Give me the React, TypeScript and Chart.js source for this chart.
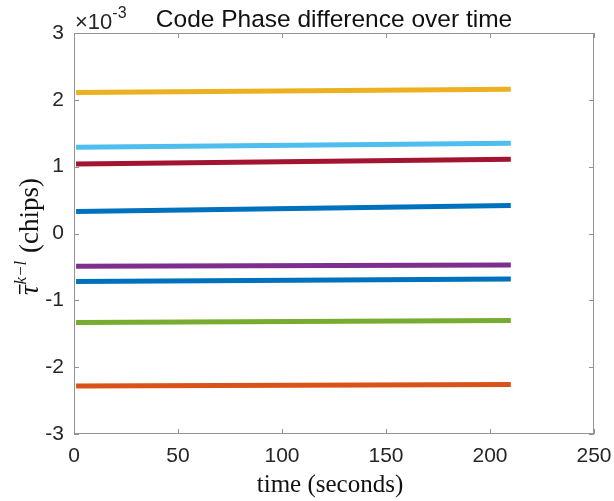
import React, { useEffect, useRef } from "react";
import { Chart, registerables } from "chart.js";

Chart.register(...registerables);

// time (seconds) at start and end of each trace
const times = [1, 210];
// values in units of 1e-3 chips
const yellowSeries = [2.11, 2.16];
const lightBlueSeries = [1.29, 1.35];
const darkRedSeries = [1.04, 1.11];
const blueUpperSeries = [0.33, 0.42];
const purpleSeries = [-0.49, -0.47];
const blueLowerSeries = [-0.72, -0.68];
const greenSeries = [-1.33, -1.3];
const orangeSeries = [-2.28, -2.26];

const xTicks = [0, 50, 100, 150, 200, 250];
const yTicks = [-3, -2, -1, 0, 1, 2, 3];

const titleText = "Code Phase difference over time";
const xLabel = "time (seconds)";

const SANS = "'Liberation Sans', Arial, Helvetica, sans-serif";
const SERIF = "'Liberation Serif', 'DejaVu Serif', serif";

const seriesList = [
  { data: blueUpperSeries, color: "#0072BD" },
  { data: orangeSeries, color: "#D95319" },
  { data: yellowSeries, color: "#EDB120" },
  { data: purpleSeries, color: "#7E2F8E" },
  { data: greenSeries, color: "#77AC30" },
  { data: lightBlueSeries, color: "#4DBEEE" },
  { data: darkRedSeries, color: "#A2142F" },
  { data: blueLowerSeries, color: "#0072BD" },
];

const decorPlugin = {
  id: "matlabDecor",
  afterDraw(chart: any) {
    const { ctx, chartArea } = chart;
    const { left, right, top, bottom } = chartArea;
    const xs = chart.scales.x;
    const ys = chart.scales.y;
    ctx.save();
    // box
    ctx.strokeStyle = "#939393";
    ctx.lineWidth = 1;
    ctx.strokeRect(left + 0.5, top + 0.5, right - left - 1, bottom - top - 1);
    // inward ticks
    const tl = 5;
    ctx.beginPath();
    xTicks.forEach((v) => {
      const px = Math.round(xs.getPixelForValue(v)) + 0.5;
      ctx.moveTo(px, bottom);
      ctx.lineTo(px, bottom - tl);
      ctx.moveTo(px, top);
      ctx.lineTo(px, top + tl);
    });
    yTicks.forEach((v) => {
      const py = Math.round(ys.getPixelForValue(v)) + 0.5;
      ctx.moveTo(left, py);
      ctx.lineTo(left + tl, py);
      ctx.moveTo(right, py);
      ctx.lineTo(right - tl, py);
    });
    ctx.stroke();

    // title
    ctx.fillStyle = "#111";
    ctx.font = `24.5px ${SANS}`;
    ctx.textAlign = "center";
    ctx.textBaseline = "alphabetic";
    ctx.fillText(titleText, (left + right) / 2, 27);

    // exponent label
    ctx.textAlign = "left";
    ctx.fillStyle = "#262626";
    ctx.font = `22px ${SANS}`;
    const base = "\u00d710";
    ctx.fillText(base, left + 1, 29);
    const bw = ctx.measureText(base).width;
    ctx.font = `16px ${SANS}`;
    ctx.fillText("-3", left + 1 + bw, 18);

    // x label
    ctx.fillStyle = "#111";
    ctx.font = `25px ${SERIF}`;
    ctx.textAlign = "center";
    ctx.fillText(xLabel, (left + right) / 2 - 4, 492);

    // y label (rotated)
    ctx.translate(29, (top + bottom) / 2 + 3);
    ctx.rotate(-Math.PI / 2);
    const tauFont = `italic 27px ${SERIF}`;
    const supFont = `italic 17px ${SERIF}`;
    const regFont = `27px ${SERIF}`;
    ctx.font = tauFont;
    const wTau = ctx.measureText("\u03c4").width;
    ctx.font = supFont;
    const supText = "k\u2212l";
    const wSup = ctx.measureText(supText).width;
    ctx.font = regFont;
    const rest = " (chips)";
    const wRest = ctx.measureText(rest).width;
    const total = wTau + wSup + 2 + wRest;
    let x0 = -total / 2;
    const yb = 9;
    ctx.textAlign = "left";
    ctx.font = tauFont;
    ctx.fillText("\u03c4", x0, yb);
    // overbar
    ctx.fillRect(x0 + 1, yb - 19, wTau, 1.4);
    x0 += wTau;
    ctx.font = supFont;
    ctx.fillText(supText, x0 + 1, yb - 12);
    x0 += wSup + 2;
    ctx.font = regFont;
    ctx.fillText(rest, x0, yb);
    ctx.restore();
  },
};

export default function App() {
  const canvasRef = useRef<HTMLCanvasElement | null>(null);

  useEffect(() => {
    if (!canvasRef.current) return;
    const chart = new Chart(canvasRef.current, {
      type: "line",
      data: {
        datasets: seriesList.map((s, i) => ({
          label: `trace ${i + 1}`,
          data: times.map((t, j) => ({ x: t, y: s.data[j] })),
          borderColor: s.color,
          backgroundColor: s.color,
          borderWidth: 5,
          borderCapStyle: "butt" as const,
          pointRadius: 0,
          fill: false,
          tension: 0,
        })),
      },
      options: {
        animation: false,
        responsive: false,
        layout: { padding: { left: 0, right: 20, top: 33, bottom: 0 } },
        plugins: {
          legend: { display: false },
          title: { display: false },
          tooltip: { enabled: false },
        },
        scales: {
          x: {
            type: "linear",
            min: 0,
            max: 250,
            ticks: {
              stepSize: 50,
              color: "#262626",
              font: { family: SANS, size: 21 },
              padding: 10,
              maxRotation: 0,
              autoSkip: false,
            },
            grid: { display: false, drawTicks: false },
            border: { display: false },
            afterFit: (s: any) => {
              s.height = 67;
              s.paddingLeft = 0;
              s.paddingRight = 0;
            },
          },
          y: {
            type: "linear",
            min: -3,
            max: 3,
            ticks: {
              stepSize: 1,
              color: "#262626",
              font: { family: SANS, size: 21 },
              padding: 10,
            },
            grid: { display: false, drawTicks: false },
            border: { display: false },
            afterFit: (s: any) => {
              s.width = 74;
              s.paddingTop = 0;
              s.paddingBottom = 0;
            },
          },
        },
      },
      plugins: [decorPlugin],
    });
    return () => chart.destroy();
  }, []);

  return (
    <div style={{ position: "absolute", left: 0, top: 0, width: 614, height: 501, background: "#fff" }}>
      <canvas ref={canvasRef} width={614} height={501} style={{ display: "block" }} />
    </div>
  );
}
